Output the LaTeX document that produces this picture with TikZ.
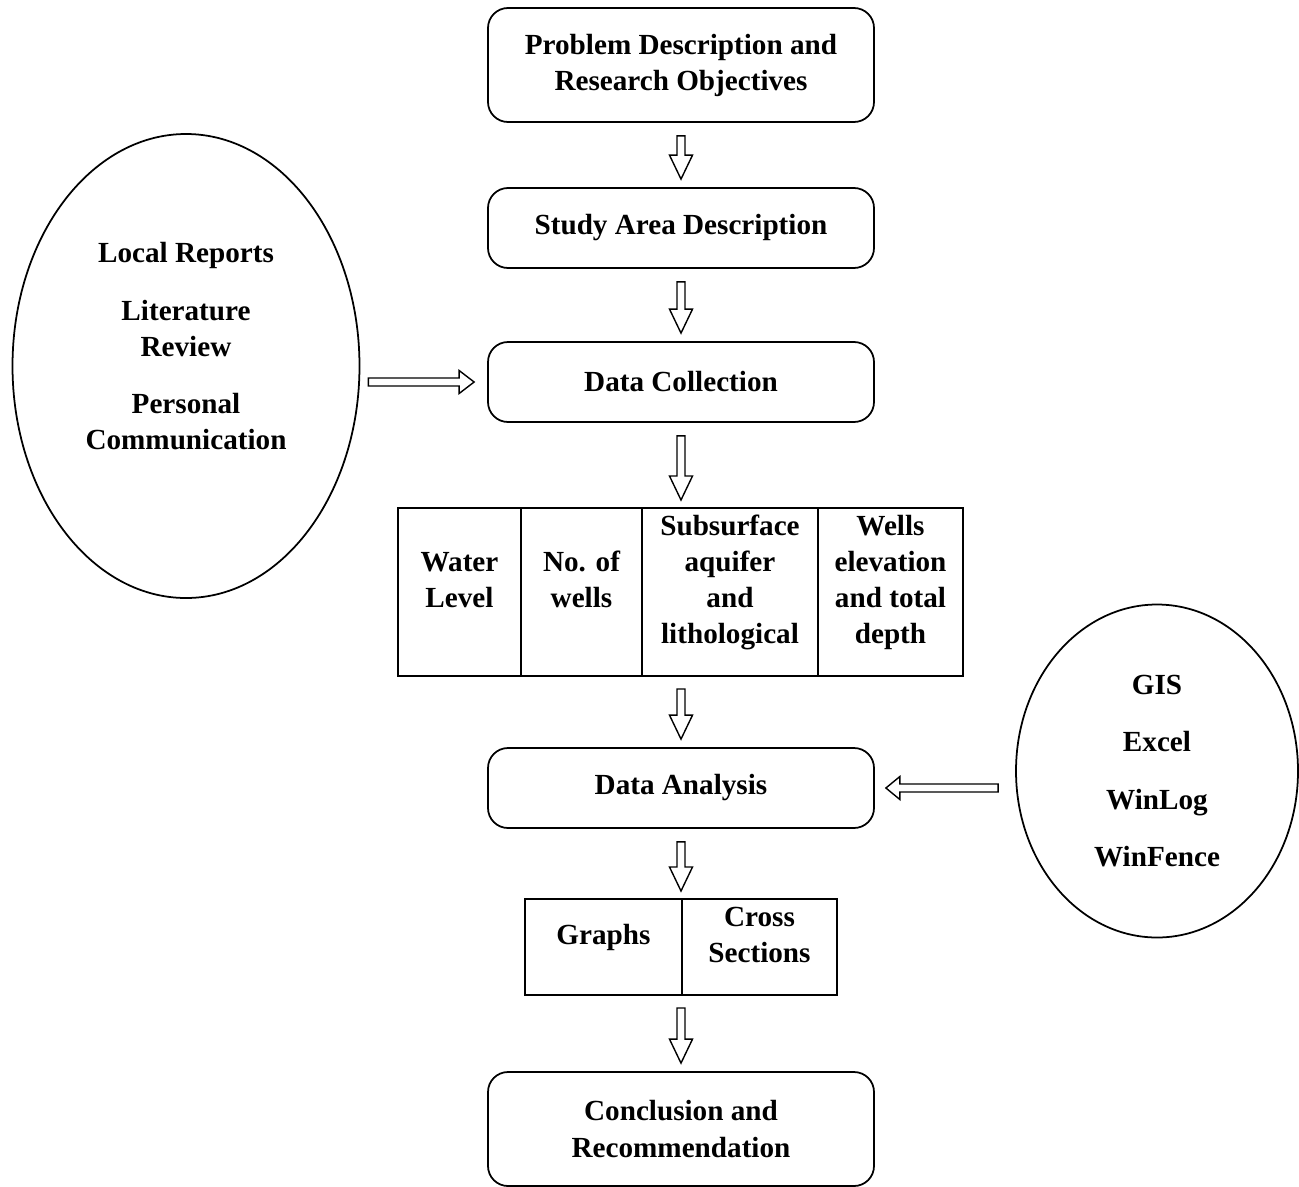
\documentclass[tikz,border=0pt]{standalone}
\usepackage{fontspec}
\setmainfont{Liberation Serif}
\usetikzlibrary{shapes,positioning,calc}
\tikzstyle{stage} = [rectangle, draw, line width=1pt, rounded corners=0.4cm, align=center, minimum width=7.72cm, inner sep=0pt]
\tikzstyle{source} = [ellipse, draw, line width=1pt, align=center, inner sep=0pt]
\tikzstyle{cell} = [rectangle, draw, line width=0.6pt, align=center, inner sep=0pt, outer sep=0pt, text depth=0.5cm]
\tikzset{hollow/.style={draw, line width=0.8pt, to path={
    let \p1=($(\tikztotarget)-(\tikztostart)$), \n1={atan2(\y1,\x1)}, \n2={veclen(\x1,\y1)} in
    ($(\tikztostart)+(\n1+90:0.08cm)$) -- ($(\tikztostart)+(\n1:\n2-#1)+(\n1+90:0.08cm)$)
    -- ($(\tikztostart)+(\n1:\n2-#1)+(\n1+90:0.23cm)$) -- (\tikztotarget)
    -- ($(\tikztostart)+(\n1:\n2-#1)+(\n1-90:0.23cm)$) -- ($(\tikztostart)+(\n1:\n2-#1)+(\n1-90:0.08cm)$)
    -- ($(\tikztostart)+(\n1-90:0.08cm)$) -- cycle}},
  hollow/.default=0.48cm}

\begin{document}
\begin{tikzpicture}[font=\fontsize{16.6}{20.5}\selectfont\bfseries]
    \useasboundingbox (0,0) rectangle (25.98,-23.72);
    % Place nodes
    \node [stage, minimum height=2.28cm] (pd) at (13.62,-1.30) {Problem Description and\\Research Objectives};
    \node [stage, minimum height=1.6cm, below of=pd, node distance=3.26cm] (sa) {Study Area Description};
    \node [stage, minimum height=1.6cm, below of=sa, node distance=3.08cm] (dc) {Data Collection};
    \node [cell, minimum width=2.46cm, minimum height=3.36cm, below of=dc, node distance=4.2cm, xshift=-4.43cm] (wl) {Water\\Level};
    \node [cell, minimum width=2.42cm, minimum height=3.36cm, right=0pt of wl] (nw) {No. of\\wells};
    \node [cell, minimum width=3.52cm, minimum height=3.36cm, right=0pt of nw] (sub) {Subsurface\\aquifer\\and\\lithological};
    \node [cell, minimum width=2.9cm, minimum height=3.36cm, right=0pt of sub] (elev) {Wells\\elevation\\and total\\depth};
    \node [stage, minimum height=1.6cm, below of=dc, node distance=8.12cm] (da) {Data Analysis};
    \node [cell, minimum width=3.14cm, minimum height=1.92cm, below of=da, node distance=3.18cm, xshift=-1.55cm] (gr) {Graphs};
    \node [cell, minimum width=3.1cm, minimum height=1.92cm, right=0pt of gr] (cs) {Cross\\Sections};
    \node [stage, minimum height=2.28cm, below of=da, node distance=6.82cm] (cr) {Conclusion and\\Recommendation};
    \node [source, minimum width=6.94cm, minimum height=9.28cm, text depth=0.8cm, left of=dc, node distance=9.9cm, yshift=0.32cm] (lit) {Local Reports\\[12pt]Literature\\Review\\[12pt]Personal\\Communication};
    \node [source, minimum width=5.64cm, minimum height=6.66cm, right of=da, node distance=9.52cm, yshift=0.34cm] (tools) {GIS\\[12pt]Excel\\[12pt]WinLog\\[12pt]WinFence};

    % Draw edges
    \draw [hollow] ([yshift=-0.26cm]pd.south) to ([yshift=0.16cm]sa.north);
    \draw [hollow] ([yshift=-0.26cm]sa.south) to ([yshift=0.16cm]dc.north);
    \draw [hollow] ([yshift=-0.26cm]dc.south) to ([yshift=0.16cm]dc.south |- sub.north);
    \draw [hollow] ([yshift=-0.26cm]dc.south |- sub.south) to ([yshift=0.16cm]da.north);
    \draw [hollow] ([yshift=-0.26cm]da.south) to ([yshift=0.16cm]da.south |- gr.north);
    \draw [hollow] ([yshift=-0.26cm]da.south |- gr.south) to ([yshift=0.16cm]cr.north);
    \draw [hollow=0.3cm] ([xshift=0.16cm]lit.east |- dc.west) to ([xshift=-0.26cm]dc.west);
    \draw [hollow=0.28cm] ([xshift=-0.34cm]tools.west |- da.east) to ([xshift=0.22cm]da.east);
\end{tikzpicture}
\end{document}
